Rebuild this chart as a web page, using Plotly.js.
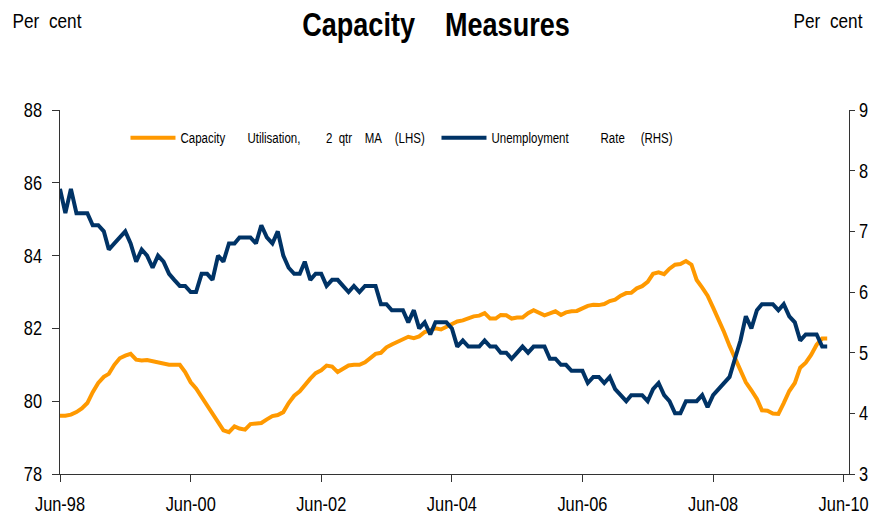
<!DOCTYPE html>
<html>
<head>
<meta charset="utf-8">
<script src="https://cdn.plot.ly/plotly-3.0.1.min.js"></script>
<style>html,body{margin:0;padding:0;background:#fff}#chart{width:872px;height:518px}</style>
</head>
<body>
<div id="chart"></div>
<script>
// Monthly observations starting June 1998
const startYear = 1998;
const startMonth = 6; // June

const capacityUtilisation = [
  79.6, 79.6, 79.63, 79.7, 79.8, 79.95, 80.25, 80.5, 80.67, 80.75,
  81.0, 81.18, 81.25, 81.3, 81.14, 81.12, 81.13, 81.1, 81.06, 81.02,
  81.0, 81.0, 81.0, 80.8, 80.52, 80.35, 80.12, 79.9, 79.68, 79.42,
  79.2, 79.15, 79.31, 79.25, 79.22, 79.37, 79.39, 79.4, 79.5, 79.59,
  79.62, 79.7, 79.95, 80.15, 80.27, 80.45, 80.62, 80.77, 80.85, 80.98,
  80.95, 80.8, 80.9, 80.98, 81.0, 81.0, 81.07, 81.18, 81.3, 81.33,
  81.48, 81.56, 81.63, 81.73, 81.77, 81.73, 81.78, 81.9, 81.96, 82.0,
  81.97, 82.05, 82.12, 82.19, 82.22, 82.27, 82.33, 82.35, 82.42, 82.27,
  82.27, 82.37, 82.36, 82.27, 82.3, 82.3, 82.42, 82.5, 82.43, 82.36,
  82.41, 82.47, 82.37, 82.44, 82.47, 82.48, 82.55, 82.62, 82.65, 82.64,
  82.67, 82.75, 82.79, 82.9, 82.97, 82.98, 83.1, 83.16, 83.28, 83.5,
  83.54, 83.49, 83.64, 83.75, 83.77, 83.85, 83.75, 83.33, 83.12, 82.9,
  82.57, 82.25, 81.9, 81.52, 81.18, 80.85, 80.52, 80.3, 80.06, 79.75,
  79.74, 79.66, 79.65, 79.95, 80.28, 80.5, 80.92, 81.06, 81.27, 81.55,
  81.72, 81.72
];

const unemploymentRate = [
  7.7, 7.3, 7.7, 7.3, 7.3, 7.3, 7.1, 7.1, 7.0, 6.7,
  6.8, 6.9, 7.0, 6.8, 6.5, 6.7, 6.6, 6.4, 6.6, 6.5,
  6.3, 6.2, 6.1, 6.1, 6.0, 6.0, 6.3, 6.3, 6.2, 6.6,
  6.5, 6.8, 6.8, 6.9, 6.9, 6.9, 6.8, 7.1, 6.9, 6.8,
  7.0, 6.6, 6.4, 6.3, 6.3, 6.5, 6.2, 6.3, 6.3, 6.1,
  6.2, 6.2, 6.1, 6.0, 6.1, 6.0, 6.1, 6.1, 6.1, 5.8,
  5.8, 5.7, 5.7, 5.7, 5.5, 5.7, 5.4, 5.5, 5.3, 5.5,
  5.5, 5.5, 5.4, 5.1, 5.2, 5.1, 5.1, 5.1, 5.2, 5.1,
  5.1, 5.0, 5.0, 4.9, 5.0, 5.1, 5.0, 5.1, 5.1, 5.1,
  4.9, 4.9, 4.8, 4.8, 4.7, 4.7, 4.7, 4.5, 4.6, 4.6,
  4.5, 4.6, 4.4, 4.3, 4.2, 4.3, 4.3, 4.3, 4.2, 4.4,
  4.5, 4.3, 4.2, 4.0, 4.0, 4.2, 4.2, 4.2, 4.3, 4.1,
  4.3, 4.4, 4.5, 4.6, 4.9, 5.2, 5.6, 5.4, 5.7, 5.8,
  5.8, 5.8, 5.7, 5.8, 5.6, 5.5, 5.2, 5.3, 5.3, 5.3,
  5.1, 5.1
];

const xTickValues = ['1998-06-01', '2000-06-01', '2002-06-01', '2004-06-01', '2006-06-01', '2008-06-01', '2010-06-01'];
const xTickLabels = ['Jun-98', 'Jun-00', 'Jun-02', 'Jun-04', 'Jun-06', 'Jun-08', 'Jun-10'];
const leftTicks = [78, 80, 82, 84, 86, 88];
const rightTicks = [3, 4, 5, 6, 7, 8, 9];

const seriesNames = [
  'Capacity\u00a0\u00a0\u00a0\u00a0\u00a0\u00a0\u00a0Utilisation,\u00a0\u00a0\u00a0\u00a0\u00a0\u00a0\u00a0\u00a02\u00a0\u00a0qtr\u00a0\u00a0\u00a0\u00a0MA\u00a0\u00a0\u00a0\u00a0(LHS)',
  'Unemployment\u00a0\u00a0\u00a0\u00a0\u00a0\u00a0\u00a0\u00a0\u00a0\u00a0Rate\u00a0\u00a0\u00a0\u00a0\u00a0(RHS)'
];

function monthDates(n) {
  const out = [];
  for (let i = 0; i < n; i++) {
    const t = (startMonth - 1) + i;
    const y = startYear + Math.floor(t / 12);
    const m = (t % 12) + 1;
    out.push(y + '-' + (m < 10 ? '0' + m : m) + '-01');
  }
  return out;
}

const FONT = "'Liberation Sans', Arial, sans-serif";
const NARROW_SCALE = 0.82; // condensed look of the original lettering

const traces = [
  {
    x: monthDates(capacityUtilisation.length),
    y: capacityUtilisation,
    name: seriesNames[0],
    type: 'scatter', mode: 'lines',
    line: {color: '#FF9900', width: 4},
    yaxis: 'y'
  },
  {
    x: monthDates(unemploymentRate.length),
    y: unemploymentRate,
    name: seriesNames[1],
    type: 'scatter', mode: 'lines',
    line: {color: '#003366', width: 4},
    yaxis: 'y2'
  }
];

const layout = {
  width: 872, height: 518,
  margin: {l: 60, r: 23, t: 110, b: 44},
  paper_bgcolor: '#ffffff', plot_bgcolor: '#ffffff',
  font: {family: FONT, color: '#000', size: 20},
  title: {
    text: '<b>Capacity\u00a0\u00a0\u00a0\u00a0Measures</b>',
    font: {family: FONT, size: 33, color: '#000'},
    x: 0.5, xref: 'container', xanchor: 'center',
    y: 0.952, yref: 'container', yanchor: 'middle'
  },
  showlegend: true,
  legend: {
    orientation: 'h',
    x: 0.083, xanchor: 'left',
    y: 0.923, yanchor: 'middle',
    font: {family: FONT, size: 14, color: '#000'},
    bgcolor: 'rgba(0,0,0,0)',
    itemwidth: 45,
    entrywidth: 251,
    traceorder: 'normal'
  },
  xaxis: {
    type: 'date',
    range: ['1998-06-01', '2010-07-01'],
    tickmode: 'array', tickvals: xTickValues, ticktext: xTickLabels,
    ticks: 'outside', ticklen: 7, tickcolor: '#333', tickwidth: 1,
    showline: true, linecolor: '#333', linewidth: 1,
    showgrid: false, zeroline: false,
    tickfont: {family: FONT, size: 20, color: '#000'},
    ticklabelstandoff: 5,
    ticklabeloverflow: 'allow'
  },
  yaxis: {
    range: [78, 88],
    tickmode: 'array', tickvals: leftTicks,
    ticks: 'outside', ticklen: 7, tickcolor: '#333',
    showline: true, linecolor: '#333', linewidth: 1,
    showgrid: false, zeroline: false,
    tickfont: {family: FONT, size: 20, color: '#000'},
    ticklabelstandoff: 6
  },
  yaxis2: {
    range: [3, 9],
    overlaying: 'y', side: 'right',
    tickmode: 'array', tickvals: rightTicks,
    ticks: 'outside', ticklen: 5, tickcolor: '#333',
    showline: true, linecolor: '#333', linewidth: 1,
    showgrid: false, zeroline: false,
    tickfont: {family: FONT, size: 20, color: '#000'},
    ticklabeloverflow: 'allow'
  },
  annotations: [
    {text: 'Per\u00a0\u00a0cent', xref: 'paper', yref: 'paper', x: -0.017, y: 1.247,
     xanchor: 'center', yanchor: 'middle', showarrow: false, font: {family: FONT, size: 21, color: '#000'}},
    {text: 'Per\u00a0\u00a0cent', xref: 'paper', yref: 'paper', x: 0.973, y: 1.247,
     xanchor: 'center', yanchor: 'middle', showarrow: false, font: {family: FONT, size: 21, color: '#000'}}
  ]
};

Plotly.newPlot('chart', traces, layout, {displayModeBar: false, staticPlot: true}).then(function (gd) {
  // horizontally condense every text around its own anchor point
  gd.querySelectorAll('svg text').forEach(function (t) {
    const x = parseFloat(t.getAttribute('x')) || 0;
    const y = parseFloat(t.getAttribute('y')) || 0;
    const prev = t.getAttribute('transform') || '';
    t.setAttribute('transform', prev + ' translate(' + x + ',' + y + ') scale(' + NARROW_SCALE + ',1) translate(' + (-x) + ',' + (-y) + ')');
  });
});
</script>
</body>
</html>
